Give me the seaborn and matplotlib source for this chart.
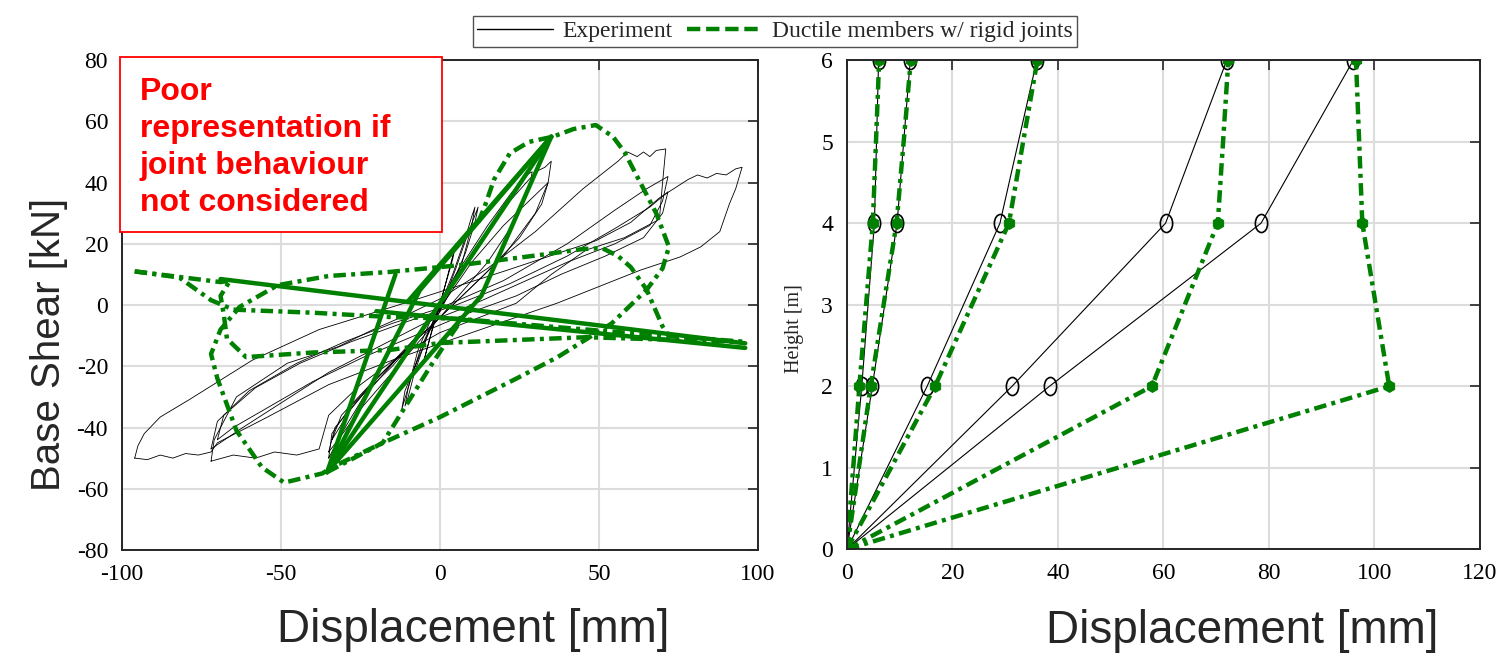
import numpy as np
import matplotlib
matplotlib.use("Agg")
import matplotlib.pyplot as plt
import seaborn as sns
from matplotlib.lines import Line2D
from matplotlib.patches import Rectangle
from matplotlib.path import Path
from matplotlib.transforms import Affine2D

# ================= data: left panel (hysteresis) =================
# experiment loops
exp_loops = [
    ([0, 3, 5, 4, 1, -2, -5, -4, -1, 0],
     [0, 12, 20, 15, 4, -6, -18, -14, -3, 0]),
    ([0, 4, 8, 10, 11, 10, 7, 3, 0, -4, -8, -10, -11, -10, -7, -3, 0],
     [0, 10, 22, 29, 32, 26, 14, 4, -2, -10, -22, -30, -33, -27, -15, -5, 0]),
    ([0, 5, 9, 12, 11, 8, 3, -2, -7, -11, -12, -10, -6, -2, 0],
     [-2, 12, 24, 32, 27, 17, 5, -5, -18, -28, -34, -27, -14, -5, -2]),
    ([-35, -33, -25, -15, -5, 5, 15, 22, 26, 28, 29, 28, 24, 15, 5, -5, -15, -25, -32, -35],
     [-48, -40, -30, -20, -8, 10, 26, 36, 41, 43, 43.5, 38, 28, 14, 2, -10, -22, -34, -44, -48]),
    ([-35, -34, -28, -18, -8, 2, 12, 22, 28, 31, 33, 35, 34, 30, 20, 8, -4, -14, -24, -31, -35],
     [-50, -42, -33, -22, -11, 4, 20, 34, 41, 44, 45, 47, 40, 30, 16, 4, -8, -18, -30, -42, -50]),
    ([-34, -31, -22, -12, -2, 10, 20, 28, 34, 32, 25, 14, 2, -10, -20, -28, -34],
     [-44, -36, -26, -16, -4, 14, 26, 34, 40, 33, 22, 10, -2, -14, -24, -34, -44]),
    # +-71 cycles
    ([-72, -71, -64, -48, -32, -21, -10, 0, 15, 30, 45, 56, 59, 62, 64, 66, 68, 71,
      70, 69, 58, 46, 35, 24, 10, 0, -12, -25, -35, -38, -45, -52, -58, -65, -72],
     [-51, -44, -30, -19, -13.6, -8, -3, 2, 12, 24, 38, 47, 50, 48.5, 50, 48.5, 50.5, 51,
      40, 28, 22, 18, 10, 0.6, -5, -9, -16, -26, -36, -47, -49, -48, -50, -49, -51]),
    ([-72, -70, -60, -45, -30, -15, 0, 20, 40, 55, 65, 71.7, 70, 66, 55, 40, 25, 10, -5, -20, -35, -50, -62, -72],
     [-47, -38, -28, -19, -12, -6, -1, 8, 20, 31, 38, 42, 34, 26, 20, 14, 7, 0, -6, -14, -22, -32, -40, -47]),
    ([-70, -68, -58, -44, -28, -12, 5, 22, 40, 55, 66, 71.7, 70, 64, 52, 38, 24, 8, -8, -24, -40, -55, -65, -70],
     [-44, -36, -27, -19, -12, -6, 0, 7, 16, 25, 32, 37, 30, 22, 16, 10, 3, -3, -10, -17, -25, -34, -40, -44]),
    # +-95 cycle
    ([-96, -95, -93, -88, -79, -59, -38, -10, 20, 49, 60, 69, 78, 81, 84, 87, 90, 93, 95,
      93, 91, 88, 82, 75.5, 63, 36.8, 10, -15, -35, -55, -70, -72, -76, -80, -84, -88, -92, -96],
     [-50, -46, -42, -36.6, -31, -18, -8, 1, 11, 21, 27, 35, 41, 42.5, 41.5, 43, 42.5, 44.5, 45,
      38, 33, 24, 19, 15.7, 11.4, 0.6, -9, -18, -26, -37, -45, -48, -49, -48.5, -50, -49, -50.5, -50]),
]

# model: dash-dot branches
model_outer_x = [12, 14, 17, 22, 28, 35.5, 42, 49, 54.4, 58, 63, 68, 72, 70, 65, 54, 37, 25, 0,
                 -20, -34, -37, -43, -49, -56, -64, -70, -72, -69, -63, -51, -35, -16, 6, 31,
                 45, 51, 56, 60, 65, 70, 72]
model_outer_y = [27, 32, 41, 49.6, 53.3, 55, 57.5, 58.8, 55, 50, 40, 30, 19, 12, 5, -6, -17, -23.5,
                 -36.6, -46, -53, -55, -56.5, -58, -53, -41, -24, -16, -8, -0.6, 6.5, 9.5, 10.8,
                 13, 16.3, 18.3, 18.6, 16, 12.4, 5, -7, -10]
model_a_x = [-96, -82, -72, -65, -40, -16, 6, 40, 70, 96]
model_a_y = [11, 9, 1.6, -1.5, -2.5, -3.9, -4.5, -7.5, -10, -12]
model_e_x = [-96, -69, -66, -69, -68, -67, -61, -40, -16, 0, 46, 94]
model_e_y = [11, 7.5, 8, 3, -3, -11, -17, -15.5, -14.7, -12.4, -10.5, -12]
model_rise_x = [-35.5, -18, -12.6, -3, 4, 10]
model_rise_y = [-54.6, -45, -36, -20, -9, 0]

# model: elastic parts drawn solid
model_solid = [
    ([-35.5, 35], [-54.6, 55]),
    ([35, -10], [55, 1.3]),
    ([-35.5, 13, 35], [-54.6, 3, 55]),
    ([-35.5, -15.7, -14], [-54.6, 4.9, 10]),
    ([-35.5, -6.3, 35], [-54.6, 4.9, 55]),
    ([-69, 96], [8.5, -12.5]),
    ([-20, 96], [-2, -14]),
]

# ================= data: right panel (drift profiles) =================
heights = [0, 2, 4, 6]
exp_profiles = [
    [0, 2.8, 5.2, 6.0],
    [0, 4.8, 9.5, 12.0],
    [0, 15.2, 29.0, 36.0],
    [0, 31.3, 60.4, 72.0],
    [0, 38.4, 78.5, 96.0],
]
model_profiles = [
    [0, 2.35, 4.9, 6.1],
    [0, 4.5, 9.4, 12.1],
    [0, 16.7, 30.7, 36.1],
    [0, 57.8, 70.3, 72.3],
    [0, 102.8, 97.7, 96.5],
]

GREEN = "#008000"
DASHDOT = (0, (2.8, 1.2, 0.9, 1.2))
# tall open "circle" as in the original figure
ELLIPSE = Path.unit_circle().transformed(Affine2D().scale(0.68, 1.0))

sns.set_style("white")
plt.rcParams["font.family"] = ["Liberation Serif", "DejaVu Serif"]
plt.rcParams["axes.unicode_minus"] = False

fig = plt.figure(figsize=(15.06, 6.61), dpi=100)
ax1 = fig.add_axes([0.081, 0.168, 0.4223, 0.741])
ax2 = fig.add_axes([0.5624, 0.169, 0.4203, 0.740])

# ---------- left panel ----------
for lx, ly in exp_loops:
    sns.lineplot(x=lx, y=ly, sort=False, estimator=None, ax=ax1,
                 color="black", linewidth=0.6)
for sx, sy in model_solid:
    sns.lineplot(x=sx, y=sy, sort=False, estimator=None, ax=ax1,
                 color=GREEN, linewidth=3.2, solid_capstyle="round")
for mx, my in [(model_outer_x, model_outer_y), (model_a_x, model_a_y),
               (model_e_x, model_e_y), (model_rise_x, model_rise_y)]:
    sns.lineplot(x=mx, y=my, sort=False, estimator=None, ax=ax1,
                 color=GREEN, linewidth=3.2, linestyle=DASHDOT)

ax1.set_xlim(-100, 100)
ax1.set_ylim(-80, 80)
ax1.set_xticks(np.arange(-100, 101, 50))
ax1.set_yticks(np.arange(-80, 81, 20))
ax1.set_xlabel("Displacement [mm]", family="Liberation Sans", fontsize=33)
ax1.set_ylabel("Base Shear [kN]", family="Liberation Sans", fontsize=29)
ax1.xaxis.set_label_coords(0.552, -0.118)
ax1.yaxis.set_label_coords(-0.085, 0.42)

# annotation box anchored at the top-left corner of the left axes
ax1.add_patch(Rectangle((-0.003, 0.649), 0.506, 0.357, transform=ax1.transAxes,
                        facecolor="white", edgecolor="red", linewidth=1.3,
                        clip_on=False, zorder=5))
ax1.text(0.028, 0.966,
         "Poor\nrepresentation if\njoint behaviour\nnot considered",
         transform=ax1.transAxes, ha="left", va="top", color="red",
         fontsize=23, fontweight="bold", family="Liberation Sans",
         linespacing=1.31, zorder=6)

# ---------- right panel ----------
for prof in exp_profiles:
    sns.lineplot(x=prof, y=heights, sort=False, estimator=None, ax=ax2,
                 color="black", linewidth=0.8, marker=ELLIPSE, markersize=13,
                 markerfacecolor="none", markeredgecolor="black",
                 markeredgewidth=1.2)
for prof in model_profiles:
    sns.lineplot(x=prof, y=heights, sort=False, estimator=None, ax=ax2,
                 color=GREEN, linewidth=3.2, linestyle=DASHDOT, marker="h",
                 markersize=8.5, markerfacecolor=GREEN, markeredgecolor=GREEN)

ax2.set_xlim(0, 120)
ax2.set_ylim(0, 6)
ax2.set_xticks(np.arange(0, 121, 20))
ax2.set_yticks(np.arange(0, 7, 1))
ax2.set_xlabel("Displacement [mm]", family="Liberation Sans", fontsize=33)
ax2.set_ylabel("Height [m]", fontsize=14.5)
ax2.xaxis.set_label_coords(0.624, -0.122)
ax2.yaxis.set_label_coords(-0.068, 0.452)

for ax in (ax1, ax2):
    ax.grid(True, color="#dcdcdc", linewidth=1.5)
    ax.set_axisbelow(True)
    ax.tick_params(direction="in", length=7, width=1.2, labelsize=17, pad=10,
                   top=True, right=True, colors="#262626", labelcolor="black")
    for sp in ax.spines.values():
        sp.set_visible(True)
        sp.set_color("#262626")
        sp.set_linewidth(1.4)

handles = [
    Line2D([], [], color="black", linewidth=1.0),
    Line2D([], [], color=GREEN, linewidth=3.2, linestyle=(0, (3, 1.3))),
]
fig.legend(handles, ["Experiment", "Ductile members w/ rigid joints"],
           loc="center", bbox_to_anchor=(0.5146, 0.953), ncol=2,
           fontsize=17, frameon=True, fancybox=False, edgecolor="#262626",
           handlelength=3.2, columnspacing=0.6, handletextpad=0.4,
           borderpad=0.2)

fig.savefig("out.png", dpi=100)
